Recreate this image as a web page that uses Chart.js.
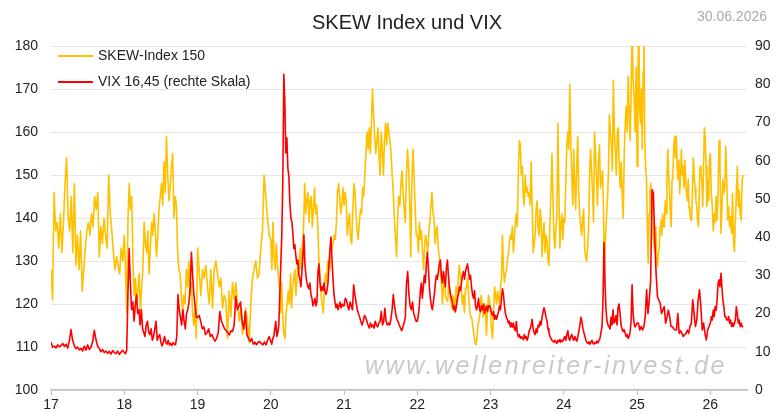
<!DOCTYPE html>
<html>
<head>
<meta charset="utf-8">
<script src="https://cdn.jsdelivr.net/npm/chart.js@4.4.0/dist/chart.umd.min.js"></script>
<style>
  html, body { margin: 0; padding: 0; background: #fff; }
  canvas { display: block; }
</style>
</head>
<body>
<canvas id="chart" width="780" height="412"></canvas>
<script>
// Texts
const chartTitle = 'SKEW Index und VIX';
const chartDate = '30.06.2026';
const watermark = 'www.wellenreiter-invest.de';
const skewLabel = 'SKEW-Index 150';
const vixLabel = 'VIX 16,45 (rechte Skala)';

// Years on the x axis (two digits), and how much of each year the data covers
const years = [17, 18, 19, 20, 21, 22, 23, 24, 25, 26];
const yearSpan = [1, 1, 1, 1, 1, 1, 1, 1, 1, 0.46];

// SKEW index, one list per year
const skew17 = [128,121,146,137,139,133,141,132,139,148,154,140,137,145,132,148,129,136,128,137,123,128,133,137,139,136,141,138,145,142,146,131,138,134,140,136,133,150,141,137,132,128,131,129,127,133,130];
const skew18 = [136,128,118,140,148,142,145,130,122,126,120,123,127,118,124,128,139,134,132,137,127,133,139,136,141,137,131,136,142,145,148,143,153,146,159,150,144,147,152,155,140,145,143,132,128,127,122,118,122,120,128,124,130,122,125,118,115,119,112];
const skew19 = [133,128,122,128,126,129,124,120,128,119,128,130,127,124,126,119,122,121,112,123,117,125,121,125,120,116,119,113,115,119,116,111,120,126,128,130,126,127,133,137,150,145,140,136];
const skew20 = [135,128,139,131,128,134,130,126,124,118,125,116,113,112,118,120,123,120,127,119,124,126,128,122,126,130,128,133,128,134,138,148,141,144,146,139,144,145,138,142,147,141,143,138,130,127,122,120,118,124,127,125,130,129,128,131,133,134,136,135,139,146,148,145,141,143,147];
const skew21 = [143,146,144,136,139,141,135,134,142,148,146,141,137,135,139,142,141,147,145,150,155,160,156,161,155,162,170,164,159,155,158,161,154,150,160,156,150,158,162,157,162,160,158,155,150,146,140,136,131,140,145,143,148,151,146,142,139,150,156,152,144,131,148,156,150,143,136];
const skew22 = [136,132,139,135,137,132,128,134,136,134,132,137,139,143,146,141,140,134,137,138,133,131,128,125,120,124,127,122,121,120.6,125,123,120.6,119,122,121,118,124,120.6,125,129,127,124,120,122,118,123.7,123.7,126,122,119,117,116.7,115,113,111.3,110.5,112,115,116.5,118,122,120,117,120,119,112.8,118,122,120.6];
const skew23 = [118,114,112,118,124,122,120,123,121,120,124,126,136,128,125,126.8,128,130,132,134,136,135,138,132,135,139,141,138,150,158,157,150,152,145,143,150,146,147,145,146,143,153,143,132,134,136,142,144,138,136,142,140,131,136,139,132,136,135,130,129,139,146,155,145,136,133,138,140,162,146,133,138,141,135];
const skew24 = [140,139,148,157,160,156,171,158,150,143,156,148,142,152,159,146,141,138,136,140,142,133,131,130,133,138,150,156,151,146,139,160,155,149,143,153,157,147,149,151,143,127,135,140,144,150,164,160,157,151,172,160,156,150,160,161,152,147,153,145,140,155,162,166,160,173,165,158,170,184,172,168,160,175];
const skew25 = [152,174,186,166,162,170,156,174,186,158,152,149,138,129.5,141,146,148,143,146.5,136,133,135,138,130,128.7,132,133,138,139.5,136,141,138,138,144,141,149,156,150,146.5,141,138,149,150,156.6,159,154,159,152,149,153.5,145.7,150,156,150,152,147,153.5,149,145.7,144,149,142.6,141,139.5,139.5,146.5,154,150,147,144,142.6,139.5,138,146.5,152,150,149,142.6,152,161,158,152,142.6,149,144,154];
const skew26 = [155,145.7,142.6,137,141,139,145,139.5,146.5,158,152,136.4,142.6,149,145.7,147.3,156.6,149,139.5,142.6,138,140.3,136.4,145.7,134.9,132.2,139.5,145.7,152,142.6,146.5,141,139.5,148.8,150];

// VIX, one list per year (right axis)
const vix17 = [12.5,11.2,11.5,11.0,11.8,11.3,11.6,12.2,11.4,12.0,11.0,12.8,15.8,13.0,11.6,10.8,11.2,10.5,10.9,10.2,11.5,10.4,11.8,10.6,11.2,12.6,15.6,13.2,11.4,10.9,10.0,10.6,9.8,10.2,9.6,10.1,9.4,10.3,9.8,9.5,10.2,9.3,9.9,10.4];
const vix18 = [9.8,9.5,10.5,25,37,28,21,23,18,22,25,20,21,17,21,16,15,14,17,18,15,14.5,16,13,14,16,18,13,14,14.5,12.5,11.5,12.5,14,12.5,12,13,11.8,12.2,11.6,12.4,12.0,11.8,14,25,21,19,17,21,18,16,20,21,23,27,36,30,25,22,19];
const vix19 = [19,19.5,18,16,16.5,14.5,15,16,14,14.5,13.5,12.8,13.6,15,20.5,18,17,16,15.5,15,14.4,15.5,15.3,17,24.5,21,22,23,18,16,20.5,14.5,13.5,12.7,13.5,12,12.5,11.8,12.5,12.7,12.2,11.8,12.6,11.8,13,14];
const vix20 = [12.7,12,13.5,14,16,18,14,15,17,25,33,41,55,82.6,75,62,66,58,56,49,45,44,41,37,38,35,33,34,30,29,27,31,35,40.6,33,30,28,27,26.5,28,25,24,22,23,24,22,23,31,33,28,26,27,26,28,26,25,26,28,33,37,40,34,29,25,23,21.5,22.5,21,22,23,21.5,22.5,22];
const vix21 = [22,24,23.5,22,21,23,22,21,27.5,25,23,21,20,19,17.9,17,18,19.5,19,18,17,16.2,17.5,16.5,17,16.2,18,17,16.5,17.5,18,20.5,17,18,21.4,18,17,17.5,17,18.5,21,25,22,20,18.5,17.9,17,16.2,15.5,16.5,17.5,19,28,31,25,22,21,23,20,19,18];
const vix22 = [18,19.5,22,26,28,24,27,30,28,33,36,32,27,24,22,21,23,25,28,30,29,31,33,34,30,28,31,29,27,32,34,30,27,25,24,23,21,22,20.5,22,24,25,27,26,28,30,31,29,31,32,33,31,29,30,27,25,24,26,22,21,22,24,21,20.5,22,21,22.5,20,21,22,20.5,22,22];
const vix23 = [21.5,20,19.5,20.5,18.5,19.5,18.5,19.5,20.5,22,21,24,26.5,25,22,20,19,18.5,17.5,18,16.5,17.5,16.5,17.5,16,15.5,17.9,15,14,14.5,13.5,14,13.6,13.2,14.5,13.5,14,13,14,15.5,16,17,18.5,16,15,14.5,16,15,17,16.5,18,17,19,20.5,21.5,20.5,19,18,16,15,14,13.5,13,12.8,12.5,13,12.5,12.2,13,12.6,13.2,12.5,13,12.8];
const vix24 = [13.5,14,13,14.5,15.5,13.5,13,14,14.5,13.5,13,14,13.2,12.8,14,15.5,17,19,18,16,15,14,13,12.5,12.2,12.6,12,12.5,13,12.2,12,12.5,12.2,12.8,12.3,13,13.5,15,16.5,23,38.6,28,21,18,17,16.5,16,19,17,21,17.5,18,19.5,17,21.5,22.5,20,17,16,15.3,15.8,15,14,14.5,13.5,14,15,18,27.5,20,17.5,16.5,17];
const vix25 = [17.5,17.5,15.7,16.6,15.7,16.6,19.2,26.2,20,23.6,28.8,52.4,51.5,39.3,30.5,24.4,23.5,22.7,20,21,21.8,17.5,19,20.9,19.2,16.6,16.6,16,15.7,15.7,20,14.8,15.5,14.8,14,14.5,14.8,15.7,14.8,16.6,17.5,23.6,20,16.6,18.3,23.6,26.2,21.8,15.7,17.5,14.8,13.1,15.7,16.6];
const vix26 = [17.5,19.2,18.3,20.9,19.2,21.8,20.9,23.6,27.9,28.8,27,30.5,27,23.6,21.8,19.2,19.2,18.3,18.3,19.2,17.5,18.3,16.6,17.5,16.6,17.5,18.3,21.8,20,17.5,18.3,16.6,17.5,16.6,16.45];

const skewByYear = [skew17, skew18, skew19, skew20, skew21, skew22, skew23, skew24, skew25, skew26];
const vixByYear = [vix17, vix18, vix19, vix20, vix21, vix22, vix23, vix24, vix25, vix26];

// spread each year's readings evenly over that year
function buildPoints(perYear) {
    const pts = [];
    perYear.forEach((vals, k) => {
        vals.forEach((v, i) => {
            pts.push({ x: years[k] + yearSpan[k] * i / vals.length, y: v });
        });
    });
    return pts;
}

const FONT = '"Liberation Sans", Arial, Helvetica, sans-serif';
const ORANGE = '#FFC000';
const RED = '#FF0000';

// title, date, legend and watermark
const overlay = {
    id: 'overlay',
    beforeDatasetsDraw(chart) {
        const ctx = chart.ctx;
        ctx.save();
        ctx.font = 'italic 25px ' + FONT;
        ctx.fillStyle = '#c9c9c9';
        ctx.textBaseline = 'middle';
        ctx.letterSpacing = '0px';
        const w = ctx.measureText(watermark).width;
        ctx.letterSpacing = ((362 - w) / watermark.length).toFixed(2) + 'px';
        ctx.fillText(watermark, 365, 367);
        ctx.restore();
    },
    afterDraw(chart) {
        const ctx = chart.ctx;
        ctx.save();
        ctx.textBaseline = 'middle';

        ctx.font = '20px ' + FONT;
        ctx.fillStyle = '#222';
        ctx.textAlign = 'center';
        ctx.fillText(chartTitle, 407, 23);

        ctx.font = '14px ' + FONT;
        ctx.fillStyle = '#aaa';
        ctx.textAlign = 'right';
        ctx.fillText(chartDate, 767, 17);

        const items = [[skewLabel, ORANGE, 56], [vixLabel, RED, 82]];
        ctx.textAlign = 'left';
        ctx.font = '14px ' + FONT;
        items.forEach(([text, color, y]) => {
            ctx.strokeStyle = color;
            ctx.lineWidth = 2;
            ctx.beginPath();
            ctx.moveTo(58, y);
            ctx.lineTo(93, y);
            ctx.stroke();
            ctx.fillStyle = '#222';
            ctx.fillText(text, 98, y);
        });
        ctx.restore();
    }
};

Chart.defaults.font.family = FONT;
Chart.defaults.font.size = 14;
Chart.defaults.color = '#222';

new Chart(document.getElementById('chart'), {
    type: 'line',
    data: {
        datasets: [
            {
                label: skewLabel,
                data: buildPoints(skewByYear),
                yAxisID: 'y',
                borderColor: ORANGE,
                borderWidth: 1.6,
                borderJoinStyle: 'round',
                pointRadius: 0,
                tension: 0,
                order: 1
            },
            {
                label: vixLabel,
                data: buildPoints(vixByYear),
                yAxisID: 'y2',
                borderColor: RED,
                borderWidth: 1.6,
                borderJoinStyle: 'round',
                pointRadius: 0,
                tension: 0,
                order: 0
            }
        ]
    },
    options: {
        responsive: false,
        devicePixelRatio: 1,
        animation: false,
        layout: { padding: { top: 46, left: 0, right: 0, bottom: 0 } },
        plugins: {
            legend: { display: false },
            title: { display: false },
            tooltip: { enabled: false }
        },
        scales: {
            x: {
                type: 'linear',
                min: years[0],
                max: 26.5,
                afterBuildTicks: (s) => { s.ticks = years.map(v => ({ value: v })); },
                afterFit: (s) => { s.height = 22; },
                ticks: {
                    autoSkip: false,
                    maxRotation: 0,
                    padding: 2,
                    callback: (v) => String(v)
                },
                grid: { drawOnChartArea: false, drawTicks: true, tickLength: 5, color: '#bdbdbd' },
                border: { display: true, color: '#bdbdbd', width: 1.5 }
            },
            y: {
                position: 'left',
                min: 100,
                max: 180,
                afterFit: (s) => { s.width = 51; },
                ticks: { stepSize: 10, padding: 13 },
                grid: { color: '#e6e6e6', drawTicks: false },
                border: { display: false }
            },
            y2: {
                position: 'right',
                min: 0,
                max: 90,
                afterFit: (s) => { s.width = 33; },
                ticks: { stepSize: 10, padding: 8 },
                grid: { drawOnChartArea: false, drawTicks: false },
                border: { display: false }
            }
        }
    },
    plugins: [overlay]
});
</script>
</body>
</html>
